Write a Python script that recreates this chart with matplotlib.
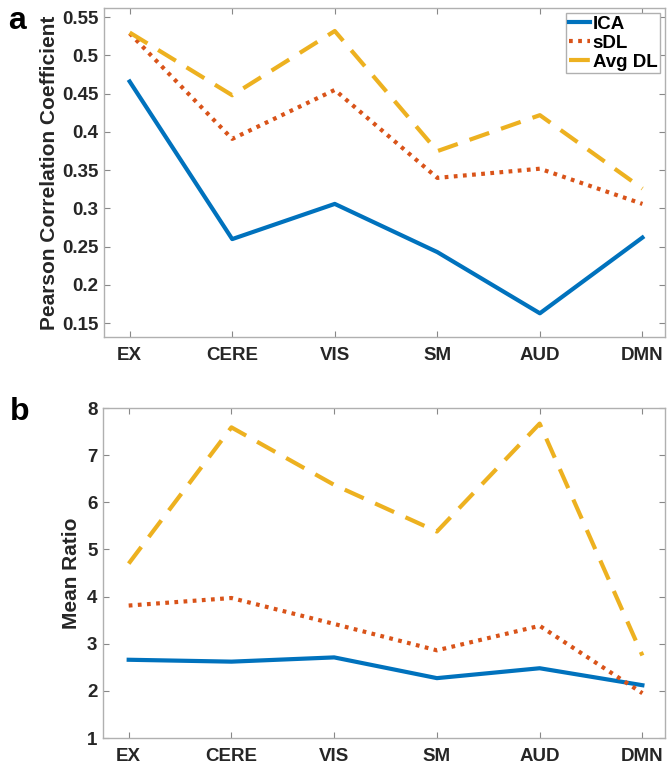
import numpy as np
import matplotlib.pyplot as plt

plt.rcParams['font.family'] = ['Liberation Sans', 'DejaVu Sans']
plt.rcParams['font.weight'] = 'bold'

# networks on the x axis
networks = ['EX', 'CERE', 'VIS', 'SM', 'AUD', 'DMN']

# panel a: Pearson correlation coefficient
pcc_ica = [0.466, 0.260, 0.306, 0.243, 0.163, 0.262]
pcc_sdl = [0.529, 0.391, 0.455, 0.340, 0.352, 0.306]
pcc_avg = [0.530, 0.448, 0.532, 0.375, 0.422, 0.326]

# panel b: mean ratio
mr_ica = [2.66, 2.62, 2.71, 2.27, 2.48, 2.12]
mr_sdl = [3.81, 3.97, 3.42, 2.86, 3.38, 1.95]
mr_avg = [4.70, 7.59, 6.37, 5.38, 7.67, 2.75]

blue, red, yellow = '#0072BD', '#D95319', '#EDB120'
x = np.arange(1, len(networks) + 1)

fig = plt.figure(figsize=(6.68, 7.67), dpi=100)
ax1 = fig.add_axes([0.1557, 0.5606, 0.8398, 0.4289])
ax2 = fig.add_axes([0.1542, 0.0378, 0.8413, 0.4302])


def draw(ax, ica, sdl, avg):
    ax.plot(x, ica, color=blue, lw=3.0, label='ICA')
    ax.plot(x, sdl, color=red, lw=3.0, linestyle=(0, (0.9, 1.3)), label='sDL')
    ax.plot(x, avg, color=yellow, lw=3.0, linestyle=(0, (5, 3)), label='Avg DL')
    ax.set_xticks(x)
    ax.set_xticklabels(networks)
    ax.set_xlim(0.75, 6.22)
    ax.tick_params(direction='in', top=True, right=True, length=4,
                   color='#888888', labelsize=13.5, labelcolor='#262626', pad=4)
    ax.tick_params(axis='x', pad=7)
    for s in ax.spines.values():
        s.set_color('#b0b0b0')
        s.set_linewidth(1.0)
    for lab in ax.get_xticklabels() + ax.get_yticklabels():
        lab.set_fontweight('bold')


draw(ax1, pcc_ica, pcc_sdl, pcc_avg)
ax1.set_ylim(0.132, 0.562)
ax1.set_yticks(np.arange(0.15, 0.551, 0.05))
ax1.set_yticklabels(['0.15', '0.2', '0.25', '0.3', '0.35', '0.4', '0.45', '0.5', '0.55'])
ax1.set_ylabel('Pearson Correlation Coefficient', fontsize=15, fontweight='bold',
               color='#262626', labelpad=2)
leg = ax1.legend(loc='upper right', fontsize=13.5, handlelength=1.1, handletextpad=0.15,
                 borderaxespad=0.25, borderpad=0.15, labelspacing=0.1, fancybox=False,
                 framealpha=1)
leg.get_frame().set_edgecolor('#b0b0b0')
leg.get_frame().set_linewidth(1.0)
for t in leg.get_texts():
    t.set_fontweight('bold')

draw(ax2, mr_ica, mr_sdl, mr_avg)
ax2.set_ylim(1, 8)
ax2.set_yticks(range(1, 9))
ax2.set_yticklabels([str(v) for v in range(1, 9)])
ax2.set_ylabel('Mean Ratio', fontsize=15, fontweight='bold', color='#262626', labelpad=4)

fig.text(0.012, 0.972, 'a', fontsize=23, fontweight='bold', va='center')
fig.text(0.015, 0.463, 'b', fontsize=23, fontweight='bold', va='center')

fig.savefig('out.png', dpi=100)
